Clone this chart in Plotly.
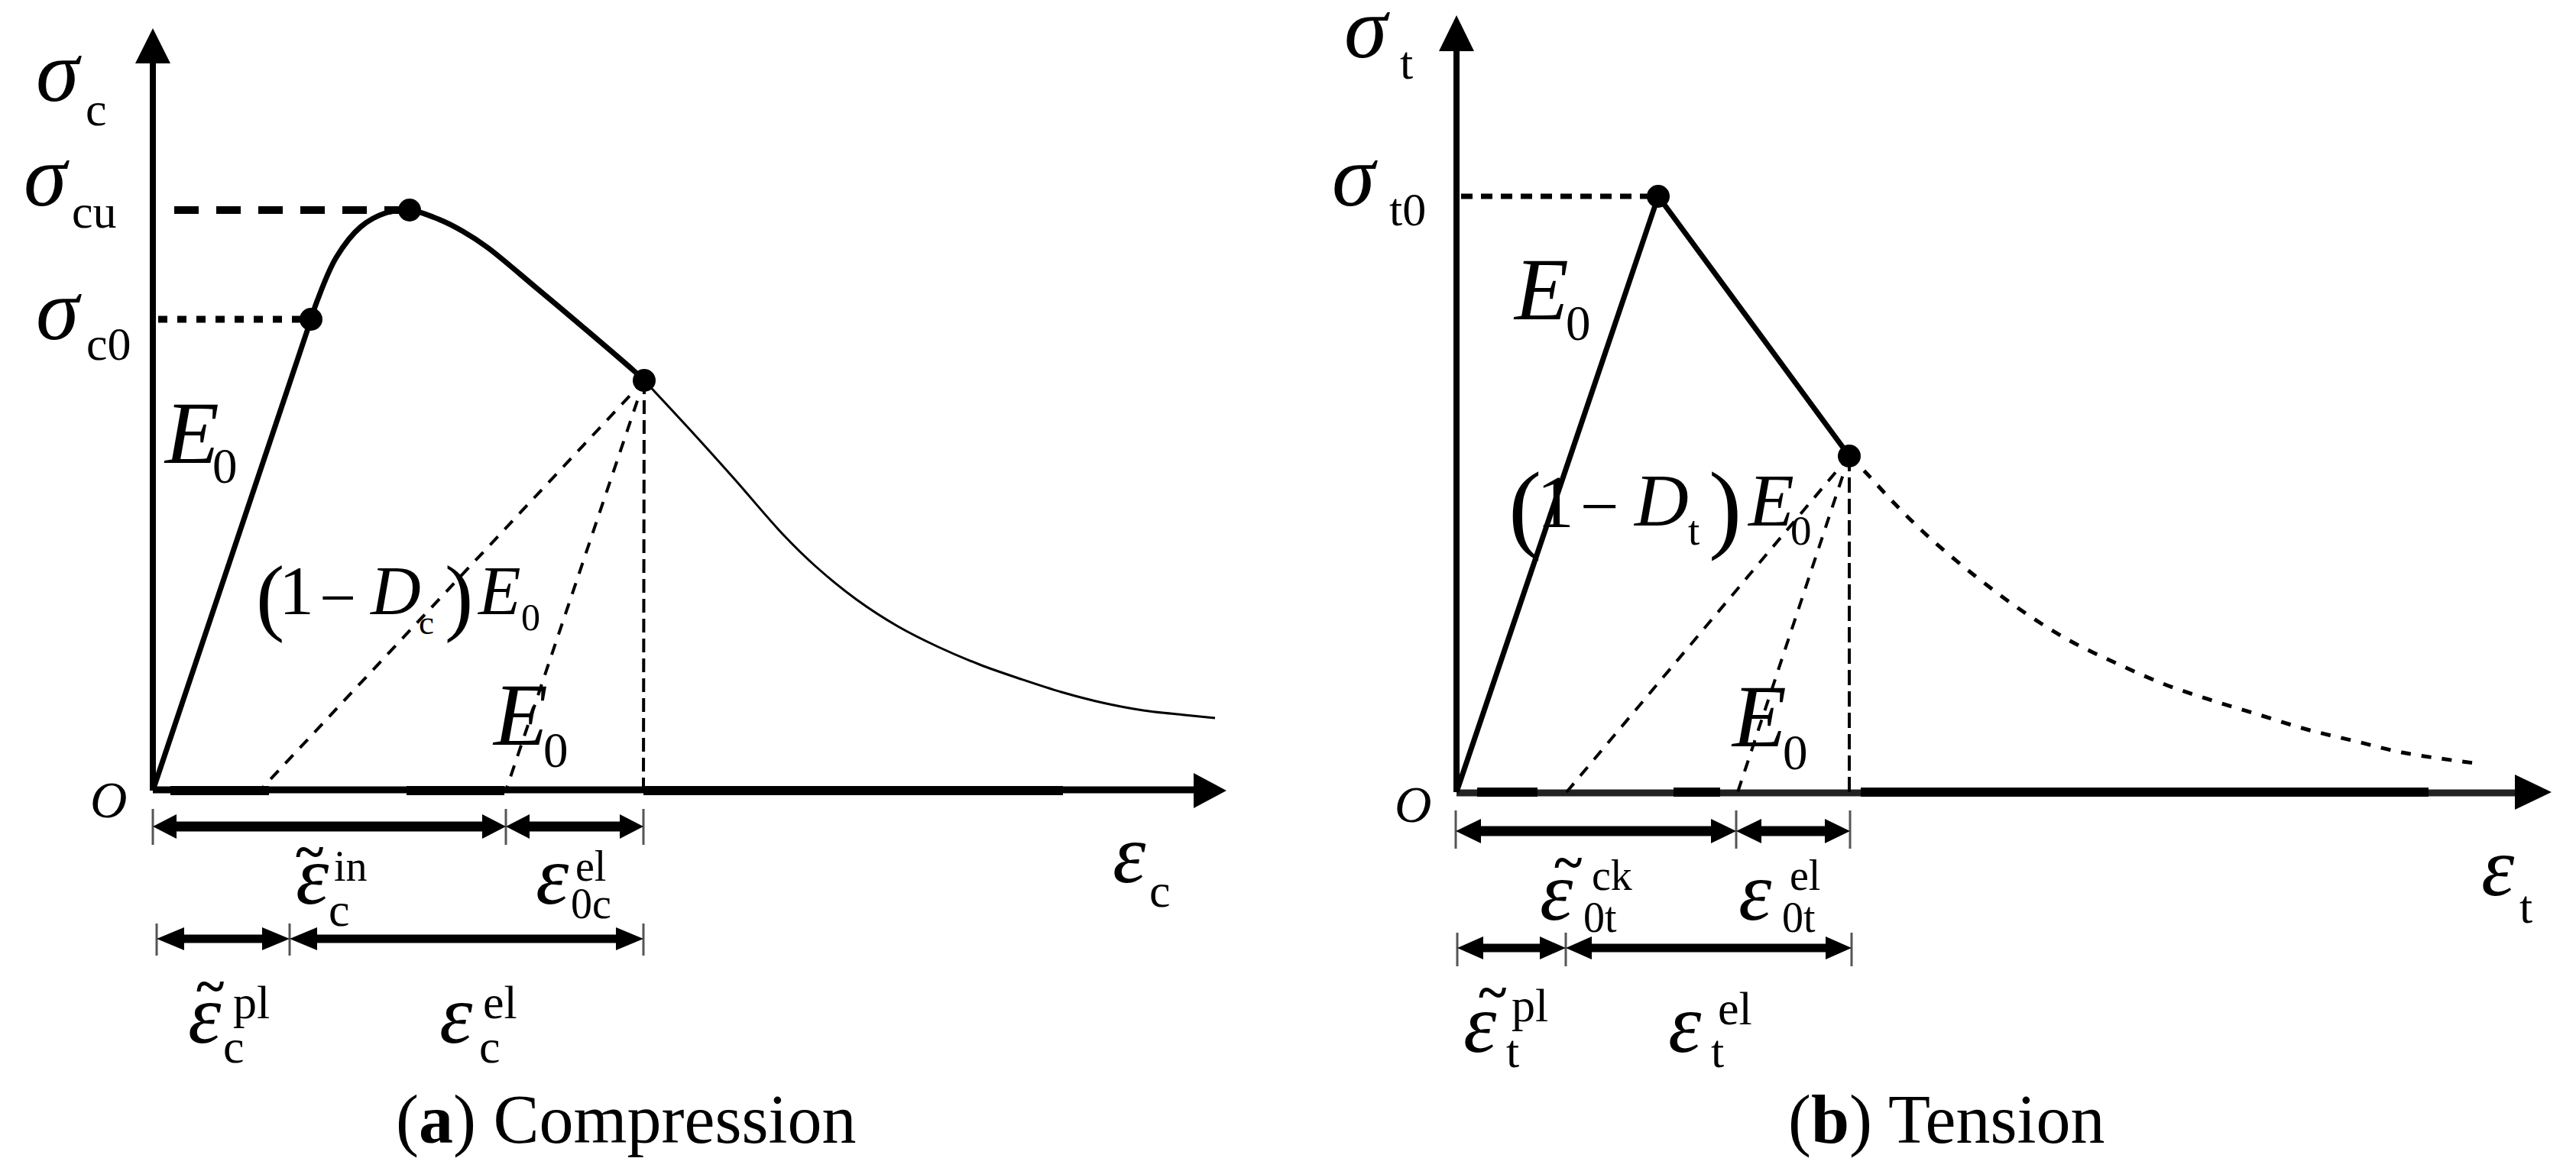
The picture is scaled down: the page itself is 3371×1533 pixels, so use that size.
import plotly.graph_objects as go

W, H = 3371, 1533

# compression panel, strain / stress (arbitrary units)
c_elastic_strain = [0, 207]
c_elastic_stress = [0, 617]
c_harden_strain = [207, 215, 240, 272, 304, 336, 374, 406, 438, 502, 565, 629, 643]
c_harden_stress = [617, 641, 698, 738, 756, 760, 748, 732, 711, 658, 605, 550, 537]
c_tail_strain = [643, 707, 761, 825, 868, 921, 975, 1028, 1082, 1136, 1189, 1243, 1296, 1350, 1390]
c_tail_stress = [537, 468, 408, 335, 293, 250, 215, 188, 165, 146, 129, 115, 105, 99, 95]
c_points_strain = [207, 336, 643]
c_points_stress = [617, 760, 537]
c_cu_strain = [28, 336]
c_cu_stress = [760, 760]
c_c0_strain = [7, 207]
c_c0_stress = [617, 617]
c_unload_foot = [140, 462, 642]
c_row1 = [0, 462, 642]
c_row2 = [5, 179, 642]
c_axis_thick = [(23, 152), (332, 460), (642, 1191)]

# tension panel
t_rise_strain = [0, 264]
t_rise_stress = [0, 780]
t_fall_strain = [264, 514]
t_fall_stress = [780, 440]
t_tail_strain = [514, 535, 574, 618, 680, 742, 803, 865, 927, 989, 1051, 1113, 1175, 1237, 1332]
t_tail_stress = [440, 419, 377, 334, 282, 236, 198, 168, 141, 120, 101, 82, 67, 52, 38]
t_points_strain = [264, 514]
t_points_stress = [780, 440]
t_t0_strain = [6, 264]
t_t0_stress = [780, 780]
t_unload_foot = [144, 368, 514]
t_row1 = [-1, 366, 515]
t_row2 = [1, 143, 517]
t_axis_thick = [(27, 106), (284, 345), (529, 1272)]

BLACK = "#000000"
SERIF = "Liberation Serif"

fig = go.Figure()


def line(ax, x, y, width, color=BLACK, dash=None, shape="linear"):
    fig.add_trace(go.Scatter(x=x, y=y, mode="lines", xaxis=ax[0], yaxis=ax[1], showlegend=False,
                             hoverinfo="skip",
                             line=dict(color=color, width=width, dash=dash, shape=shape)))


def head(ax, tip, base, half):
    # filled triangle between the tip and the middle of its base
    if tip[1] == base[1]:
        xs = [tip[0], base[0], base[0], tip[0]]
        ys = [tip[1], base[1] + half, base[1] - half, tip[1]]
    else:
        xs = [tip[0], base[0] + half, base[0] - half, tip[0]]
        ys = [tip[1], base[1], base[1], tip[1]]
    fig.add_trace(go.Scatter(x=xs, y=ys, mode="lines", xaxis=ax[0], yaxis=ax[1], showlegend=False,
                             hoverinfo="skip", fill="toself", fillcolor=BLACK,
                             line=dict(color=BLACK, width=0)))


def dimension(ax, x0, x1, y, bar, hlen, half):
    line(ax, [x0 + hlen / 2, x1 - hlen / 2], [y, y], bar)
    head(ax, (x0, y), (x0 + hlen, y), half)
    head(ax, (x1, y), (x1 - hlen, y), half)


def ticks(ax, xs, y0, y1):
    for x in xs:
        line(ax, [x, x], [y0, y1], 3, color="#555555")


def label(text, px, py, size, italic=False):
    fig.add_annotation(text=text, x=px / W, y=1 - py / H, xref="paper", yref="paper",
                       xanchor="center", yanchor="middle", showarrow=False,
                       font=dict(family=SERIF, size=size, color=BLACK,
                                 style="italic" if italic else "normal"))


A = ("x", "y")
B = ("x2", "y2")

# compression
line(A, [0, 0], [0, 960], 8)
head(A, (0, 998), (0, 952), 23)
line(A, [0, 1370], [1, 1], 9)
for a, b in c_axis_thick:
    line(A, [a, b], [0, 0], 12)
head(A, (1405, 0), (1362, 0), 23)
line(A, c_elastic_strain, c_elastic_stress, 7)
line(A, c_harden_strain, c_harden_stress, 7, shape="spline")
line(A, c_tail_strain, c_tail_stress, 3, shape="spline")
line(A, c_cu_strain, c_cu_stress, 10, dash="32px,23px")
line(A, c_c0_strain, c_c0_stress, 9, dash="12px,13px")
for foot in c_unload_foot:
    d = "18px,8px" if foot == c_unload_foot[-1] else "15px,13px"
    line(A, [c_points_strain[-1], foot], [c_points_stress[-1], 0], 4, dash=d)
fig.add_trace(go.Scatter(x=c_points_strain, y=c_points_stress, mode="markers", xaxis="x", yaxis="y",
                         showlegend=False, hoverinfo="skip", marker=dict(color=BLACK, size=30)))
ticks(A, c_row1, -24, -71)
ticks(A, c_row2, -174, -216)
dimension(A, c_row1[0], c_row1[1], -47, 13, 31, 16)
dimension(A, c_row1[1], c_row1[2], -47, 13, 31, 16)
dimension(A, c_row2[0], c_row2[1], -194, 11, 36, 15)
dimension(A, c_row2[1], c_row2[2], -194, 11, 36, 15)

# tension
line(B, [0, 0], [0, 980], 8)
head(B, (0, 1017), (0, 970), 23)
line(B, [0, 1390], [-1, -1], 9, color="#222222")
for a, b in t_axis_thick:
    line(B, [a, b], [0, 0], 12)
head(B, (1433, 0), (1385, 0), 23)
line(B, t_rise_strain, t_rise_stress, 7)
line(B, t_fall_strain, t_fall_stress, 7)
line(B, t_tail_strain, t_tail_stress, 5, dash="13px,14px", shape="spline")
line(B, t_t0_strain, t_t0_stress, 7, dash="15px,11px")
for foot in t_unload_foot:
    d = "20px,8px" if foot == t_unload_foot[-1] else "15px,13px"
    line(B, [t_points_strain[-1], foot], [t_points_stress[-1], 0], 4, dash=d)
fig.add_trace(go.Scatter(x=t_points_strain, y=t_points_stress, mode="markers", xaxis="x2", yaxis="y2",
                         showlegend=False, hoverinfo="skip", marker=dict(color=BLACK, size=30)))
ticks(B, t_row1, -24, -74)
ticks(B, t_row2, -184, -228)
dimension(B, t_row1[0], t_row1[1], -51, 13, 33, 16)
dimension(B, t_row1[1], t_row1[2], -51, 13, 33, 16)
dimension(B, t_row2[0], t_row2[1], -204, 11, 34, 15)
dimension(B, t_row2[1], t_row2[2], -204, 11, 34, 15)

# text, compression side
label("σ", 77, 93, 114, True)
label("c", 126, 143, 62)
label("σ", 61, 230, 114, True)
label("cu", 124, 277, 62)
label("σ", 77, 405, 114, True)
label("c0", 142, 450, 62)
label("E", 250, 567, 116, True)
label("0", 294, 610, 65)
label("(", 353, 780, 112)
label("1", 388, 773, 92)
label("−", 442, 782, 85)
label("D", 517, 773, 91, True)
label("c", 558, 815, 45)
label(")", 600, 780, 112)
label("E", 653, 773, 91, True)
label("0", 694, 808, 50)
label("E", 680, 936, 116, True)
label("0", 727, 982, 65)
label("O", 142, 1047, 67, True)
label("ε", 1478, 1118, 110, True)
label("c", 1518, 1166, 62)
label("ε", 409, 1146, 110, True)
label("<b>~</b>", 405, 1114, 70)
label("in", 459, 1134, 56)
label("c", 444, 1191, 62)
label("ε", 723, 1146, 110, True)
label("el", 773, 1134, 56)
label("0c", 773, 1183, 56)
label("ε", 268, 1328, 110, True)
label("<b>~</b>", 275, 1290, 70)
label("pl", 329, 1312, 62)
label("c", 306, 1370, 62)
label("ε", 597, 1328, 110, True)
label("el", 654, 1312, 62)
label("c", 641, 1370, 62)
label("(<b>a</b>) Compression", 819, 1466, 90)

# text, tension side
label("σ", 1789, 36, 114, True)
label("t", 1840, 82, 62)
label("σ", 1773, 231, 114, True)
label("t0", 1842, 274, 62)
label("E", 2016, 379, 116, True)
label("0", 2065, 423, 65)
label("(", 1995, 663, 130)
label("1", 2035, 657, 98)
label("−", 2093, 662, 90)
label("D", 2173, 655, 98, True)
label("t", 2216, 695, 55)
label(")", 2257, 663, 130)
label("E", 2317, 655, 98, True)
label("0", 2357, 695, 55)
label("E", 2301, 938, 116, True)
label("0", 2349, 985, 65)
label("O", 1849, 1053, 67, True)
label("ε", 3269, 1135, 110, True)
label("t", 3305, 1187, 62)
label("ε", 2037, 1167, 110, True)
label("<b>~</b>", 2052, 1128, 70)
label("ck", 2109, 1146, 56)
label("0t", 2094, 1201, 56)
label("ε", 2297, 1167, 110, True)
label("el", 2362, 1146, 56)
label("0t", 2354, 1201, 56)
label("ε", 1937, 1340, 110, True)
label("<b>~</b>", 1953, 1298, 70)
label("pl", 2002, 1316, 62)
label("t", 1979, 1376, 62)
label("ε", 2205, 1340, 110, True)
label("el", 2270, 1320, 62)
label("t", 2247, 1376, 62)
label("(<b>b</b>) Tension", 2547, 1466, 90)

fig.update_layout(
    width=W, height=H, margin=dict(l=0, r=0, t=0, b=0),
    paper_bgcolor="white", plot_bgcolor="white", showlegend=False,
    xaxis=dict(domain=[0, 0.5], range=[-200, 1485.5], visible=False),
    yaxis=dict(domain=[0, 1], range=[-498, 1035], visible=False),
    xaxis2=dict(domain=[0.5, 1], range=[-220.5, 1465], visible=False),
    yaxis2=dict(domain=[0, 1], range=[-496, 1037], visible=False, anchor="x2"),
)

# the browser's default body margin would push everything 8px in
fig.write_html("out.html", config=dict(displayModeBar=False),
               post_script="document.body.style.margin = '0';")
